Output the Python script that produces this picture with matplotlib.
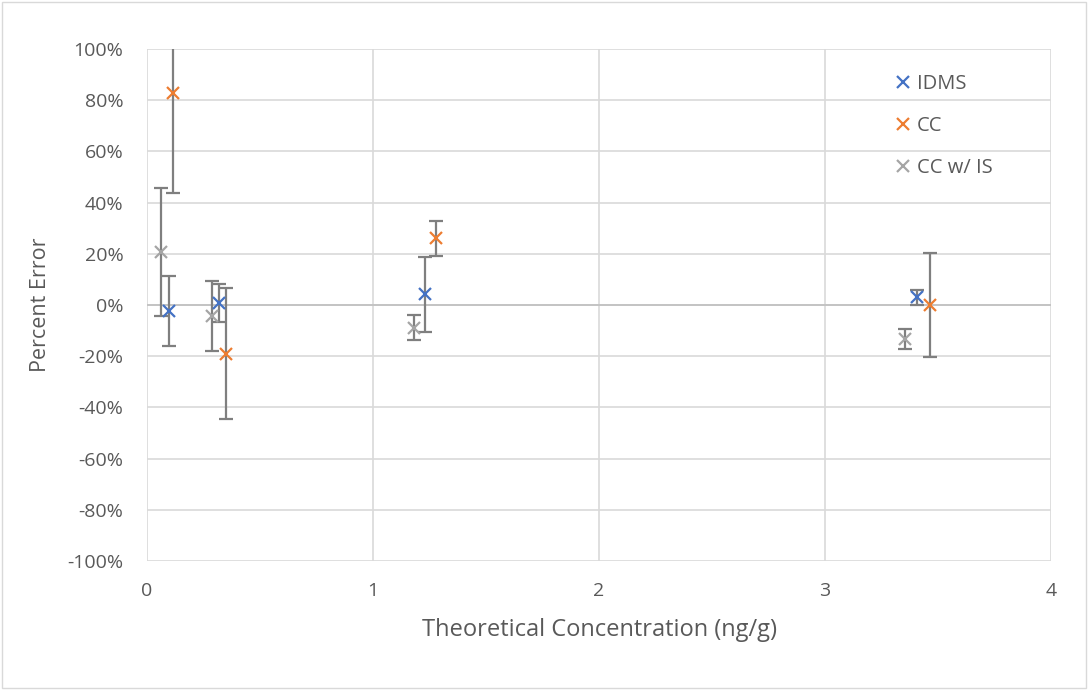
import numpy as np
import matplotlib.pyplot as plt
from matplotlib.ticker import FuncFormatter, MultipleLocator
from matplotlib.patches import Rectangle

plt.rcParams['font.family'] = ['Open Sans', 'DejaVu Sans']

# theoretical concentration (ng/g), percent error and its uncertainty, per method
idms_x = [0.097, 0.319, 1.232, 3.407]
idms_y = [-2.3, 0.7, 4.2, 3.0]
idms_err = [13.6, 7.5, 14.6, 3.0]

cc_x = [0.117, 0.348, 1.277, 3.465]
cc_y = [82.7, -19.1, 26.0, 0.0]
cc_err = [38.8, 25.6, 7.0, 20.2]

ccis_x = [0.061, 0.288, 1.181, 3.354]
ccis_y = [20.8, -4.3, -8.8, -13.4]
ccis_err = [25.0, 13.7, 5.0, 3.9]

series = [
    ('IDMS', idms_x, idms_y, idms_err, '#4472C4'),
    ('CC', cc_x, cc_y, cc_err, '#ED7D31'),
    ('CC w/ IS', ccis_x, ccis_y, ccis_err, '#A5A5A5'),
]

text_color = '#595959'
grid_color = '#d9d9d9'

fig = plt.figure(figsize=(10.88, 6.9), dpi=100)
ax = fig.add_axes([147 / 1088, 129 / 690, 904 / 1088, 512 / 690])

for label, x, y, err, color in series:
    ax.errorbar(x, np.array(y) / 100, yerr=np.array(err) / 100, fmt='none',
                ecolor='#7f7f7f', elinewidth=1.6, capsize=5, capthick=1.6, zorder=3)
    ax.plot(x, np.array(y) / 100, linestyle='none', marker='x', markersize=9,
            markeredgewidth=1.6, color=color, label=label, zorder=4)

ax.set_xlim(0, 4)
ax.set_ylim(-1, 1)
ax.xaxis.set_major_locator(MultipleLocator(1))
ax.yaxis.set_major_locator(MultipleLocator(0.2))
ax.yaxis.set_major_formatter(FuncFormatter(lambda v, p: f'{v * 100:.0f}%'))

ax.grid(True, color=grid_color, linewidth=1.2)
ax.set_axisbelow(True)
for s in ax.spines.values():
    s.set_visible(False)
ax.axhline(0, color='#bfbfbf', linewidth=1.2, zorder=1)
ax.tick_params(length=0, labelsize=14, colors=text_color)
ax.tick_params(axis='y', pad=17)
ax.tick_params(axis='x', pad=15)

ax.set_xlabel('Theoretical Concentration (ng/g)', fontsize=17, color=text_color)
ax.set_ylabel('Percent Error', fontsize=15.5, color=text_color)
ax.xaxis.set_label_coords(0.5, -0.111)
ax.yaxis.set_label_coords(-0.106, 0.5)

leg = ax.legend(loc='upper left', bbox_to_anchor=(895 / 1088, 1 - 74 / 690),
                bbox_transform=fig.transFigure, frameon=False, borderpad=0,
                borderaxespad=0, fontsize=14.5, labelspacing=1.1,
                handlelength=0.8, handletextpad=0.3)
for t in leg.get_texts():
    t.set_color(text_color)

fig.patches.append(Rectangle((0.002, 0.003), 0.996, 0.994, transform=fig.transFigure,
                             fill=False, edgecolor=grid_color, linewidth=1))

fig.savefig('out.png', dpi=100)
